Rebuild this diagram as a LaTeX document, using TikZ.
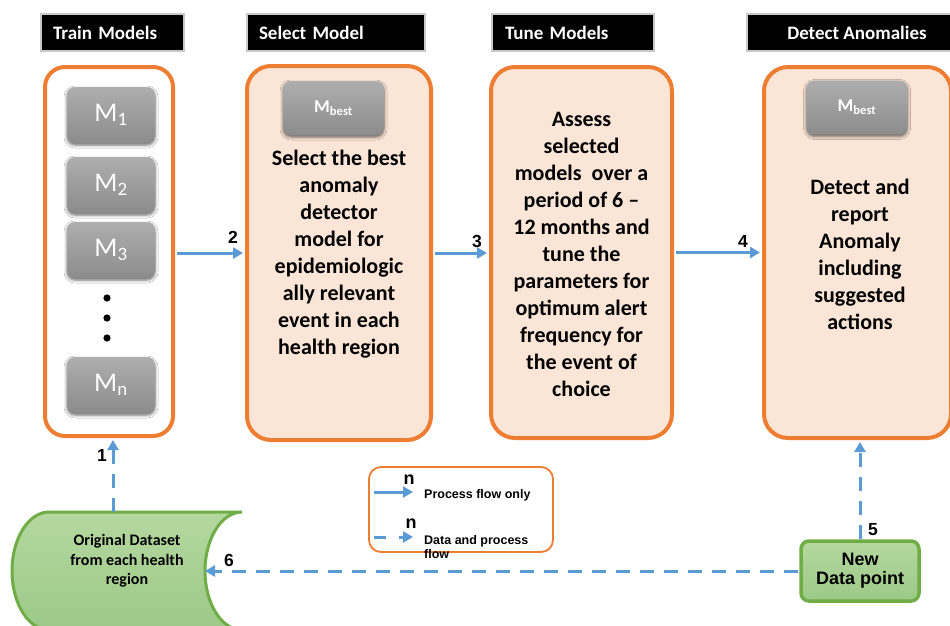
\documentclass[tikz,border=0pt]{standalone}
\usepackage{fontspec}
\setmainfont{Carlito}
\newfontfamily\arialfont{Liberation Sans}
\usetikzlibrary{arrows.meta,shadows.blur}

\definecolor{boxorange}{HTML}{ED7D31}
\definecolor{peach}{HTML}{FBE5D6}
\definecolor{flowblue}{HTML}{5B9BD5}
\definecolor{leafgreen}{HTML}{70AD47}
\definecolor{greentop}{HTML}{B5D8A0}
\definecolor{greenbot}{HTML}{9CC987}
\definecolor{graytop}{HTML}{AEAEAE}
\definecolor{graybot}{HTML}{8C8C8C}
\definecolor{titleframe}{HTML}{C8C8C8}

\begin{document}
\begin{tikzpicture}[x=1pt,y=-1pt,
  titlebar/.style={fill=black, draw=titleframe, line width=1.2pt, inner ysep=0pt,
    minimum height=37pt, text=white, font=\fontsize{19}{22}\selectfont\bfseries},
  stagebox/.style={draw=boxorange, line width=4pt, rounded corners=24pt, fill=peach},
  stagetext/.style={align=center, inner sep=0pt, font=\fontsize{22}{27}\selectfont\bfseries},
  modelbox/.style={rounded corners=8pt, top color=graytop, bottom color=graybot,
    minimum width=88pt, minimum height=56pt, text=white, inner sep=0pt,
    font=\fontsize{27}{30}\selectfont,
    blur shadow={shadow xshift=0pt, shadow yshift=-2pt, shadow blur radius=3pt, shadow opacity=60}},
  bestbox/.style={modelbox, minimum width=101pt, minimum height=54pt,
    font=\fontsize{18}{20}\selectfont\bfseries},
  flow/.style={draw=flowblue, line width=3pt, -{Triangle[length=10pt,width=11pt]}},
  dataflow/.style={flow, dash pattern=on 14pt off 10pt},
  numlabel/.style={inner sep=0pt, font=\arialfont\fontsize{17.5}{19}\selectfont\bfseries},
  greenfill/.style={top color=greentop, bottom color=greenbot, draw=leafgreen},
  legendtext/.style={inner sep=0pt, font=\arialfont\fontsize{12.5}{13.5}\selectfont\bfseries},
]
\useasboundingbox (0,0) rectangle (950,625);
\clip (0,0) rectangle (950,625);
\fill[white] (0,0) rectangle (950,625);

% stage headings
\node[titlebar, minimum width=143pt, text width=119pt, inner xsep=12pt, align=left] (t1) at (112.5,32.5) {Train Models};
\node[titlebar, minimum width=178pt, text width=154pt, inner xsep=12pt, align=left] (t2) at (336,32.5) {Select Model};
\node[titlebar, minimum width=162pt, text width=136pt, inner xsep=13pt, align=left] (t3) at (573,32.5) {Tune Models};
\node[titlebar, minimum width=220pt] (t4) at (857,32.5) {Detect Anomalies};

% stage boxes
\node[stagebox, fill=white, rounded corners=20pt, minimum width=128pt, minimum height=369pt] (b1) at (109,251.5) {};
\node[stagebox, minimum width=184pt, minimum height=374pt] (b2) at (339,253) {};
\node[stagebox, minimum width=181pt, minimum height=371pt] (b3) at (581.5,252.5) {};
\node[stagebox, minimum width=187pt, minimum height=371pt] (b4) at (857.5,252.5) {};

% trained models
\node[modelbox] (m1) at (111,115) {M\textsubscript{1}};
\node[modelbox] (m2) at (111,185) {M\textsubscript{2}};
\node[modelbox] (m3) at (111,250) {M\textsubscript{3}};
\node[modelbox] (mn) at (111,385) {M\textsubscript{n}};
\fill (107,298) circle (3.6pt) (107,318) circle (3.6pt) (107,338) circle (3.6pt);

% best model
\node[bestbox] (mb2) at (333.5,108) {M\textsubscript{best}};
\node[bestbox] (mb4) at (857,107.5) {M\textsubscript{best}};

% stage descriptions
\node[stagetext] (d2) at (339,254) {Select the best\\anomaly\\detector\\model for\\epidemiologic\\ally relevant\\event in each\\health region};
\node[stagetext] (d3) at (581.5,254) {Assess\\selected\\models~ over a\\period of 6 –\\12 months and\\tune the\\parameters for\\optimum alert\\frequency for\\the event of\\choice};
\node[stagetext] (d4) at (860,254) {Detect and\\report\\Anomaly\\including\\suggested\\actions};

% original dataset (stored data shape)
\path[greenfill, line width=3pt]
  (49,512) -- (242,512)
  .. controls (221.6,512) and (205,538.4) .. (205,571)
  .. controls (205,603.6) and (221.6,630) .. (242,630)
  -- (49,630)
  .. controls (28.6,630) and (12,603.6) .. (12,571)
  .. controls (12,538.4) and (28.6,512) .. (49,512) -- cycle;
\node[align=center, inner sep=0pt, font=\fontsize{16}{19.5}\selectfont\bfseries] (ds) at (127,561)
  {Original Dataset\\from each health\\region};
\coordinate (dstop) at (113,512);
\coordinate (dsright) at (205,571);

% new data point
\node[greenfill, line width=3.5pt, rounded corners=8pt, minimum width=118pt, minimum height=60pt,
  align=center, inner sep=0pt, font=\arialfont\fontsize{18}{19}\selectfont\bfseries] (ndp) at (860,571)
  {New\\Data point};

% process flow
\draw[flow, shorten <=2pt, shorten >=2pt] (b1.east |- b2.west) -- (b2.west);
\draw[flow, shorten <=2pt, shorten >=2pt] (b2.east) -- (b3.west |- b2.east);
\draw[flow, shorten <=2pt, shorten >=2pt] (b3.east) -- (b4.west |- b3.east);
\draw[dataflow, shorten >=2pt] (dstop) -- (dstop |- b1.south);
\draw[dataflow, shorten >=2pt] (ndp.north) -- (ndp.north |- b4.south);
\draw[dataflow, shorten <=1pt] (ndp.west) -- (dsright);

\node[numlabel] (n1) at (102,455) {1};
\node[numlabel] (n2) at (233,237) {2};
\node[numlabel] (n3) at (477,241) {3};
\node[numlabel] (n4) at (743,241) {4};
\node[numlabel] (n5) at (873,530) {5};
\node[numlabel] (n6) at (229,560) {6};

% legend
\node[draw=boxorange, line width=1.8pt, rounded corners=12pt, fill=white,
  minimum width=184pt, minimum height=85pt] (legend) at (461,509.5) {};
\coordinate (lsA) at (374,492);
\coordinate (lsB) at (413,492);
\coordinate (ldA) at (374,537);
\coordinate (ldB) at (413,537);
\draw[flow] (lsA) -- (lsB);
\draw[flow, dash pattern=on 12pt off 13pt] (ldA) -- (ldB);
\node[inner sep=0pt, font=\arialfont\fontsize{18}{20}\selectfont\bfseries] (ln1) at (409,480) {n};
\node[inner sep=0pt, font=\arialfont\fontsize{18}{20}\selectfont\bfseries] (ln2) at (411,524) {n};
\node[legendtext, anchor=west] (lt1) at (424,495) {Process flow only};
\node[legendtext, anchor=north west, align=left] (lt2) at (424,535.5) {Data and process\\flow};
\end{tikzpicture}
\end{document}
